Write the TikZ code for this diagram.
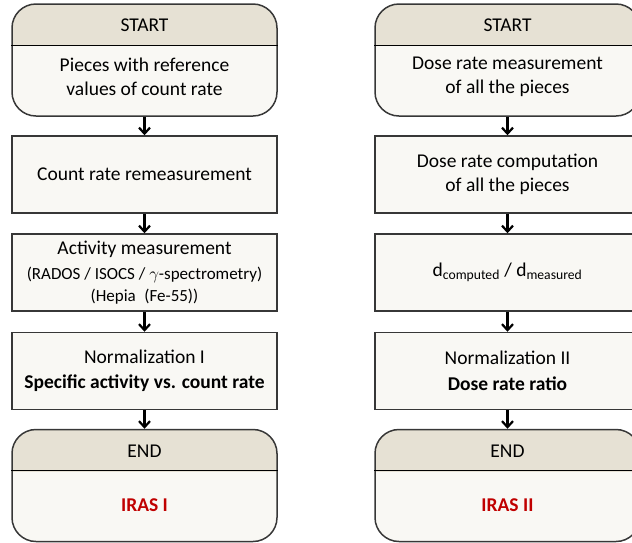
\documentclass[tikz,border=0pt]{standalone}
\usepackage{fontspec}
\setmainfont{Carlito}
\usetikzlibrary{arrows.meta}
\definecolor{hdrfill}{RGB}{230,225,212}
\definecolor{bodyfill}{RGB}{249,248,244}
\definecolor{edgegray}{RGB}{55,55,55}
\definecolor{irasred}{RGB}{192,0,0}

\begin{document}
\begin{tikzpicture}[x=1pt, y=-1pt,
    every node/.style={font=\fontsize{19.5}{23.5}\selectfont, align=center},
    termbox/.style={draw=edgegray, line width=1.5pt, fill=bodyfill, rounded corners=24pt,
        minimum width=265pt, minimum height=112pt, inner sep=0pt,
        path picture={
            \fill[hdrfill, sharp corners] (path picture bounding box.north west) rectangle ([yshift=-42pt]path picture bounding box.north east);
        }},
    stepbox/.style={draw=edgegray, line width=1.5pt, fill=bodyfill, minimum width=265pt, minimum height=77pt, inner sep=0pt},
    divider/.style={line width=1.2pt, black},
    flow/.style={line width=2.2pt, black, -{Straight Barb[length=6pt, width=11pt]}},
    result/.style={text=irasred, font=\fontsize{19.5}{23.5}\selectfont\bfseries}]
    \useasboundingbox (0,0) rectangle (632,542);
    \clip (0,0) rectangle (632,542);

    % left column: count rate normalization
    \node[termbox] (startL) at (144.5,60) {};
    \node (startLhd) at (144.5,25) {START};
    \node (startLtx) at (144.5,77) {Pieces with reference\\values of count rate};
    \node[stepbox] (remeasL) at (144.5,174.5) {Count rate remeasurement};
    \node[stepbox] (activL) at (144.5,272.5) {Activity measurement\\[2pt]
        {\fontsize{17}{21}\selectfont(RADOS / ISOCS / $\gamma$-spectrometry)}\\[-2pt]
        {\fontsize{17}{21}\selectfont(Hepia\enspace(Fe-55))}};
    \node[stepbox] (normL) at (144.5,371) {Normalization I\\[2pt]\textbf{Specific activity vs. count rate}};
    \node[termbox] (endL) at (144.5,485.5) {};
    \node (endLhd) at (144.5,451) {END};
    \node[result] (endLtx) at (144.5,505) {IRAS I};

    % right column: dose rate normalization
    \node[termbox] (startR) at (507.5,60) {};
    \node (startRhd) at (507.5,25) {START};
    \node (startRtx) at (507.5,77) {Dose rate measurement\\of all the pieces};
    \node[stepbox] (computR) at (507.5,174.5) {Dose rate computation\\of all the pieces};
    \node[stepbox] (ratioR) at (507.5,272.5) {d\textsubscript{computed} / d\textsubscript{measured}};
    \node[stepbox] (normR) at (507.5,371) {Normalization II\\[2pt]\textbf{Dose rate ratio}};
    \node[termbox] (endR) at (507.5,485.5) {};
    \node (endRhd) at (507.5,451) {END};
    \node[result] (endRtx) at (507.5,505) {IRAS II};

    % header dividers
    \foreach \b in {startL, endL, startR, endR}
        \draw[divider] ([yshift=-42pt]\b.north west) -- ([yshift=-42pt]\b.north east);

    \draw[flow] (startL) -- (remeasL);
    \draw[flow] (remeasL) -- (activL);
    \draw[flow] (activL) -- (normL);
    \draw[flow] (normL) -- (endL);
    \draw[flow] (startR) -- (computR);
    \draw[flow] (computR) -- (ratioR);
    \draw[flow] (ratioR) -- (normR);
    \draw[flow] (normR) -- (endR);
\end{tikzpicture}
\end{document}
